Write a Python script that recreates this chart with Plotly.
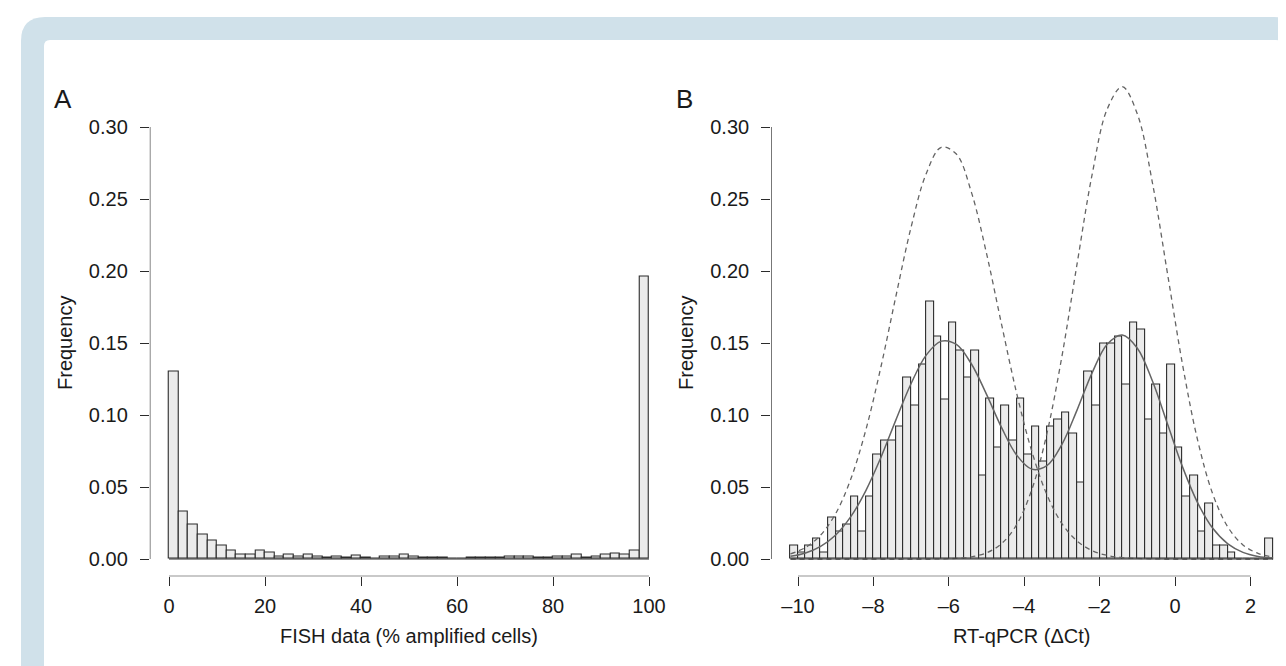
import plotly.graph_objects as go

W, H = 1286, 666

# ---------------- data ----------------
# Panel A: FISH data (% amplified cells), bins of width 2 from 0 to 100
fish_bin_start = 0
fish_bin_width = 2
fish_freq = [0.130, 0.0326, 0.0236, 0.0169, 0.0125, 0.0090, 0.0056, 0.0032, 0.0032, 0.0056,
             0.0044, 0.0020, 0.0032, 0.0020, 0.0028, 0.0016, 0.0010, 0.0016, 0.0010, 0.0023,
             0.0010, 0.0000, 0.0016, 0.0020, 0.0028, 0.0020, 0.0010, 0.0007, 0.0007, 0.0000,
             0.0000, 0.0007, 0.0010, 0.0007, 0.0010, 0.0020, 0.0020, 0.0020, 0.0010, 0.0010,
             0.0020, 0.0016, 0.0030, 0.0010, 0.0020, 0.0032, 0.0040, 0.0032, 0.0056, 0.196]
fish_ticks = [0, 20, 40, 60, 80, 100]

# Panel B: RT-qPCR (delta Ct), bins of width 0.2 from -10.2 to 2.6
qpcr_bin_start = -10.2
qpcr_bin_width = 0.2
qpcr_freq = [0.0095, 0.0046, 0.0095, 0.0144, 0.0046, 0.0289, 0.0192, 0.0240, 0.0433, 0.0192,
             0.0433, 0.0725, 0.0822, 0.0822, 0.0919, 0.1257, 0.1063, 0.1352, 0.1787, 0.1544,
             0.1109, 0.1641, 0.1449, 0.1257, 0.1449, 0.0579, 0.1111, 0.0773, 0.1063, 0.0822,
             0.1111, 0.0725, 0.0919, 0.0676, 0.0919, 0.0968, 0.1014, 0.0870, 0.0532, 0.1303,
             0.1063, 0.1498, 0.1498, 0.1544, 0.1208, 0.1641, 0.1593, 0.0968, 0.1208, 0.0870,
             0.1352, 0.0773, 0.0435, 0.0579, 0.0192, 0.0387, 0.0095, 0.0095, 0.0046, 0.0000,
             0.0000, 0.0000, 0.0000, 0.0144]
qpcr_ticks = [-10, -8, -6, -4, -2, 0, 2]

# Fitted curves (x positions and curve heights)
curve_x = [-10.2, -9.8, -9.4, -9.0, -8.6, -8.2, -7.8, -7.4, -7.0, -6.6, -6.2, -5.8, -5.4,
           -5.0, -4.6, -4.2, -3.8, -3.4, -3.0, -2.6, -2.2, -1.8, -1.4, -1.0, -0.6, -0.2,
           0.2, 0.6, 1.0, 1.4, 1.8, 2.2, 2.6]
component_low = [0.0036, 0.0080, 0.0166, 0.0316, 0.0555, 0.0897, 0.1335, 0.1829, 0.2305,
                 0.2676, 0.2859, 0.2812, 0.2546, 0.2122, 0.1628, 0.1150, 0.0748, 0.0447,
                 0.0246, 0.0125, 0.0058, 0.0025, 0.0010, 0.0004, 0.0001, 0.0, 0.0, 0.0,
                 0.0, 0.0, 0.0, 0.0, 0.0]
component_high = [0.0, 0.0, 0.0, 0.0, 0.0, 0.0, 0.0, 0.0, 0.0, 0.0, 0.0001, 0.0005, 0.0015,
                  0.0043, 0.0107, 0.0239, 0.0481, 0.0870, 0.1408, 0.2047, 0.2669, 0.3124,
                  0.3280, 0.3090, 0.2612, 0.1981, 0.1348, 0.0824, 0.0451, 0.0222, 0.0098,
                  0.0039, 0.0014]
mixture = [0.0019, 0.0042, 0.0088, 0.0167, 0.0294, 0.0475, 0.0706, 0.0968, 0.1219, 0.1416,
           0.1513, 0.1490, 0.1354, 0.1143, 0.0912, 0.0721, 0.0624, 0.0648, 0.0796, 0.1034,
           0.1293, 0.1491, 0.1556, 0.1464, 0.1236, 0.0937, 0.0638, 0.0390, 0.0213, 0.0105,
           0.0046, 0.0018, 0.0007]

freq_ticks = [0.00, 0.05, 0.10, 0.15, 0.20, 0.25, 0.30]

# ---------------- helpers ----------------
def px(x):
    return x / W

def py(y):
    return 1 - y / H

FONT = "Liberation Sans, Arial, Helvetica, sans-serif"
BAR_FILL = "#ebebeb"
EDGE = "#2b2b2b"
CURVE = "#646464"

fish_centers = [fish_bin_start + fish_bin_width * (i + 0.5) for i in range(len(fish_freq))]
qpcr_centers = [qpcr_bin_start + qpcr_bin_width * (i + 0.5) for i in range(len(qpcr_freq))]

fig = go.Figure()

fig.add_trace(go.Bar(x=fish_centers, y=fish_freq, width=fish_bin_width,
                     marker=dict(color=BAR_FILL, line=dict(color=EDGE, width=1.1)),
                     xaxis="x", yaxis="y", hoverinfo="x+y"))
fig.add_trace(go.Bar(x=qpcr_centers, y=qpcr_freq, width=qpcr_bin_width,
                     marker=dict(color=BAR_FILL, line=dict(color=EDGE, width=1.1)),
                     xaxis="x2", yaxis="y2", hoverinfo="x+y"))

fig.add_trace(go.Scatter(x=curve_x, y=component_low, mode="lines", line_shape="spline",
                         line=dict(color=CURVE, width=1.3, dash="5px,4px"),
                         xaxis="x2", yaxis="y2"))
fig.add_trace(go.Scatter(x=curve_x, y=component_high, mode="lines", line_shape="spline",
                         line=dict(color=CURVE, width=1.3, dash="5px,4px"),
                         xaxis="x2", yaxis="y2"))
fig.add_trace(go.Scatter(x=curve_x, y=mixture, mode="lines", line_shape="spline",
                         line=dict(color=CURVE, width=1.5),
                         xaxis="x2", yaxis="y2"))

# pixel geometry (R-style plot regions): value 0 at y=551 px, 1440 px per unit
Y0_PX, Y_SCALE = 551.0, 1440.0
y_range = [-0.012, 0.36]
y_dom = [py(Y0_PX - y_range[0] * Y_SCALE), py(Y0_PX - y_range[1] * Y_SCALE)]
xa_dom = [px(141.8), px(660.2)]
xa_range = [-4, 104]
xb_dom = [px(763.15), px(1284.4)]
xb_range = [-10.712, 3.112]

tickfont = dict(family=FONT, size=20, color="#1a1a1a")

def xaxis_cfg(dom, rng, ticks, anchor):
    return dict(domain=dom, range=rng, tickvals=ticks,
                ticktext=[f"{t:g}".replace("-", "\u2013") for t in ticks],
                ticks="outside", ticklen=9, tickwidth=1.1, tickcolor=EDGE,
                showgrid=False, zeroline=False, showline=False, anchor=anchor,
                tickfont=tickfont, ticklabelstandoff=3, fixedrange=True)

def yaxis_cfg(anchor):
    return dict(domain=y_dom, range=y_range, tickvals=freq_ticks,
                ticktext=[f"{t:.2f}" for t in freq_ticks],
                ticks="outside", ticklen=9, tickwidth=1.1, tickcolor=EDGE,
                showgrid=False, zeroline=False, showline=False, anchor=anchor,
                tickfont=tickfont, ticklabelstandoff=8, fixedrange=True)

shapes = []
# light-blue frame
r = 24
x0, y0, x1, y1 = 13, 9, 1290, 700
shapes.append(dict(type="path", xref="paper", yref="paper", layer="below",
                   path=(f"M {px(x0)} {py(y1)} L {px(x0)} {py(y0 + r)} "
                         f"Q {px(x0)} {py(y0)} {px(x0 + r)} {py(y0)} "
                         f"L {px(x1 - r)} {py(y0)} Q {px(x1)} {py(y0)} {px(x1)} {py(y0 + r)} "
                         f"L {px(x1)} {py(y1)} Z"),
                   fillcolor="#d0e1ea", line=dict(width=0)))
r2 = 6
x0, y0, x1, y1 = 36, 32, 1274, 700
shapes.append(dict(type="path", xref="paper", yref="paper", layer="below",
                   path=(f"M {px(x0)} {py(y1)} L {px(x0)} {py(y0 + r2)} "
                         f"Q {px(x0)} {py(y0)} {px(x0 + r2)} {py(y0)} "
                         f"L {px(x1 - r2)} {py(y0)} Q {px(x1)} {py(y0)} {px(x1)} {py(y0 + r2)} "
                         f"L {px(x1)} {py(y1)} Z"),
                   fillcolor="white", line=dict(width=0)))

axis_line = dict(color=EDGE, width=1.2)
# panel A axes
shapes.append(dict(type="line", xref="x", yref="y", x0=xa_range[0], x1=xa_range[0], y0=0, y1=0.30, line=axis_line))
shapes.append(dict(type="line", xref="x", yref="y", x0=fish_ticks[0], x1=fish_ticks[-1], y0=y_range[0], y1=y_range[0], line=axis_line))
shapes.append(dict(type="line", xref="x", yref="y", x0=fish_bin_start, x1=fish_bin_start + fish_bin_width * len(fish_freq), y0=0, y1=0, line=axis_line))
# panel B axes
shapes.append(dict(type="line", xref="x2", yref="y2", x0=xb_range[0], x1=xb_range[0], y0=0, y1=0.30, line=axis_line))
shapes.append(dict(type="line", xref="x2", yref="y2", x0=qpcr_ticks[0], x1=qpcr_ticks[-1], y0=y_range[0], y1=y_range[0], line=axis_line))
shapes.append(dict(type="line", xref="x2", yref="y2", x0=qpcr_bin_start, x1=qpcr_bin_start + qpcr_bin_width * len(qpcr_freq), y0=0, y1=0, line=axis_line))

lab = dict(family=FONT, size=20, color="#1a1a1a")
annotations = [
    dict(text="A", x=px(55), y=py(91), xref="paper", yref="paper", showarrow=False,
         font=dict(family=FONT, size=26, color="#1a1a1a"), xanchor="center", yanchor="middle"),
    dict(text="B", x=px(676), y=py(91), xref="paper", yref="paper", showarrow=False,
         font=dict(family=FONT, size=26, color="#1a1a1a"), xanchor="center", yanchor="middle"),
    dict(text="Frequency", x=px(57), y=py(335), xref="paper", yref="paper", showarrow=False,
         textangle=-90, font=lab, xanchor="center", yanchor="middle"),
    dict(text="Frequency", x=px(678), y=py(335), xref="paper", yref="paper", showarrow=False,
         textangle=-90, font=lab, xanchor="center", yanchor="middle"),
    dict(text="FISH data (% amplified cells)", x=px(401), y=py(628), xref="paper", yref="paper",
         showarrow=False, font=lab, xanchor="center", yanchor="middle"),
    dict(text="RT-qPCR (\u0394Ct)", x=px(1013), y=py(628), xref="paper", yref="paper",
         showarrow=False, font=lab, xanchor="center", yanchor="middle"),
]

fig.update_layout(
    width=W, height=H,
    margin=dict(l=0, r=0, t=0, b=0),
    paper_bgcolor="white", plot_bgcolor="rgba(0,0,0,0)",
    showlegend=False, barmode="overlay", bargap=0,
    xaxis=xaxis_cfg(xa_dom, xa_range, fish_ticks, "y"),
    yaxis=yaxis_cfg("x"),
    xaxis2=xaxis_cfg(xb_dom, xb_range, qpcr_ticks, "y2"),
    yaxis2=yaxis_cfg("x2"),
    shapes=shapes,
    annotations=annotations,
    font=dict(family=FONT),
)

fig.write_html("out.html")
